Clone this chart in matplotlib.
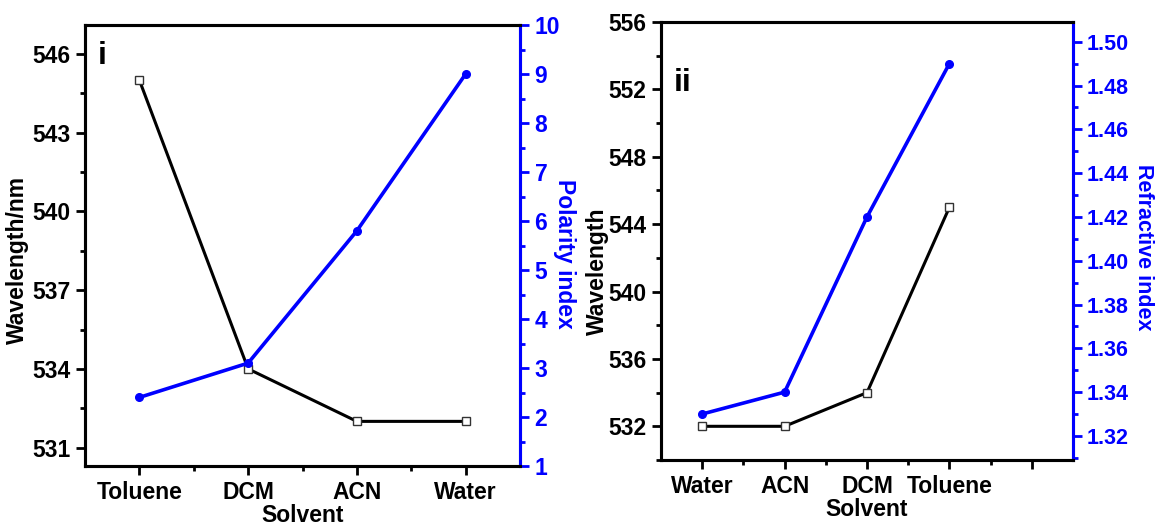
import numpy as np
import matplotlib
matplotlib.use("Agg")
import matplotlib.pyplot as plt
from matplotlib.ticker import MultipleLocator, FixedLocator

plt.rcParams['font.family'] = ['Liberation Sans', 'DejaVu Sans']
plt.rcParams['font.weight'] = 'bold'

# panel i: ordered by decreasing wavelength
solvents_i = ['Toluene', 'DCM', 'ACN', 'Water']
wavelength_i = [545, 534, 532, 532]
polarity_i = [2.4, 3.1, 5.8, 9.0]

# panel ii: ordered by refractive index
solvents_ii = ['Water', 'ACN', 'DCM', 'Toluene', '']
wavelength_ii = [532, 532, 534, 545]
refractive_ii = [1.33, 1.34, 1.42, 1.49]

BLUE = '#0000ff'
FS = 16.5


def style_axes(ax, size=FS, pad=4):
    for side in ['left', 'right', 'top', 'bottom']:
        ax.spines[side].set_linewidth(2.2)
    ax.tick_params(which='major', direction='out', length=6.5, width=2,
                   labelsize=size, pad=pad)
    ax.tick_params(which='minor', direction='out', length=3.5, width=2)


def left_panel(fig):
    ax = fig.add_axes([85/1155, 1 - 466/527, 435/1155, 441/527])
    x = np.arange(1, len(solvents_i) + 1)
    ax.plot(x, wavelength_i, color='black', lw=2.2, marker='s', ms=6,
            mfc='white', mec='#333333', mew=1, zorder=3)
    ax.set_xlim(0.5, 4.5)
    ax.set_ylim(530.3, 547.1)
    ax.yaxis.set_major_locator(MultipleLocator(3))
    ax.yaxis.set_minor_locator(MultipleLocator(1.5))
    ax.set_xticks(x)
    ax.set_xticklabels(solvents_i, fontweight='bold')
    ax.xaxis.set_minor_locator(FixedLocator([1.5, 2.5, 3.5]))
    style_axes(ax)
    ax.set_ylabel('Wavelength/nm', fontsize=FS, fontweight='bold', va='center')
    ax.yaxis.set_label_coords(-0.155, 0.467)
    ax.set_xlabel('Solvent', fontsize=FS, fontweight='bold', labelpad=0)
    ax.text(0.03, 0.93, 'i', transform=ax.transAxes, fontsize=23,
            fontweight='bold', va='center')

    ax2 = ax.twinx()
    ax2.plot(x, polarity_i, color=BLUE, lw=2.6, marker='o', ms=5.5, zorder=3)
    ax2.set_ylim(1, 10)
    ax2.yaxis.set_major_locator(MultipleLocator(1))
    ax2.yaxis.set_minor_locator(MultipleLocator(0.5))
    style_axes(ax2)
    ax2.spines['right'].set_color(BLUE)
    ax2.tick_params(axis='y', which='both', colors=BLUE, labelcolor=BLUE)
    ax2.set_ylabel('Polarity index', color=BLUE, fontsize=FS,
                   fontweight='bold', rotation=270, va='center', ha='center')
    ax2.yaxis.set_label_coords(1.103, 0.48)


def right_panel(fig):
    ax = fig.add_axes([661/1155, 1 - 460/527, 412/1155, 438/527])
    x = np.arange(1, len(wavelength_ii) + 1)
    ax.plot(x, wavelength_ii, color='black', lw=2.2, marker='s', ms=6,
            mfc='white', mec='#333333', mew=1, zorder=3)
    ax.set_xlim(0.5, 5.5)
    ax.set_ylim(530, 556)
    ax.yaxis.set_major_locator(MultipleLocator(4))
    ax.yaxis.set_minor_locator(MultipleLocator(2))
    ax.set_xticks(np.arange(1, len(solvents_ii) + 1))
    ax.set_xticklabels(solvents_ii, fontweight='bold')
    ax.xaxis.set_minor_locator(FixedLocator([1.5, 2.5, 3.5, 4.5]))
    style_axes(ax)
    ax.set_ylabel('Wavelength', fontsize=FS, fontweight='bold', va='center')
    ax.yaxis.set_label_coords(-0.155, 0.43)
    ax.set_xlabel('Solvent', fontsize=FS, fontweight='bold', labelpad=0)
    ax.text(0.03, 0.86, 'ii', transform=ax.transAxes, fontsize=23,
            fontweight='bold', va='center')

    ax2 = ax.twinx()
    ax2.plot(x, refractive_ii, color=BLUE, lw=2.6, marker='o', ms=5.5, zorder=3)
    ax2.set_ylim(1.309, 1.509)
    ax2.yaxis.set_major_locator(FixedLocator(np.round(np.arange(1.32, 1.501, 0.02), 2)))
    ax2.yaxis.set_minor_locator(FixedLocator(np.round(np.arange(1.31, 1.509, 0.01), 2)))
    ax2.yaxis.set_major_formatter(plt.FuncFormatter(lambda v, p: f'{v:.2f}'))
    style_axes(ax2, size=15.5, pad=3)
    ax2.spines['right'].set_color(BLUE)
    ax2.tick_params(axis='y', which='both', colors=BLUE, labelcolor=BLUE)
    ax2.set_ylabel('Refractive index', color=BLUE, fontsize=15.5,
                   fontweight='bold', rotation=270, va='center', ha='center')
    ax2.yaxis.set_label_coords(1.17, 0.485)


fig = plt.figure(figsize=(11.55, 5.27), dpi=100)
left_panel(fig)
right_panel(fig)
fig.savefig('out.png', dpi=100, facecolor='white')
